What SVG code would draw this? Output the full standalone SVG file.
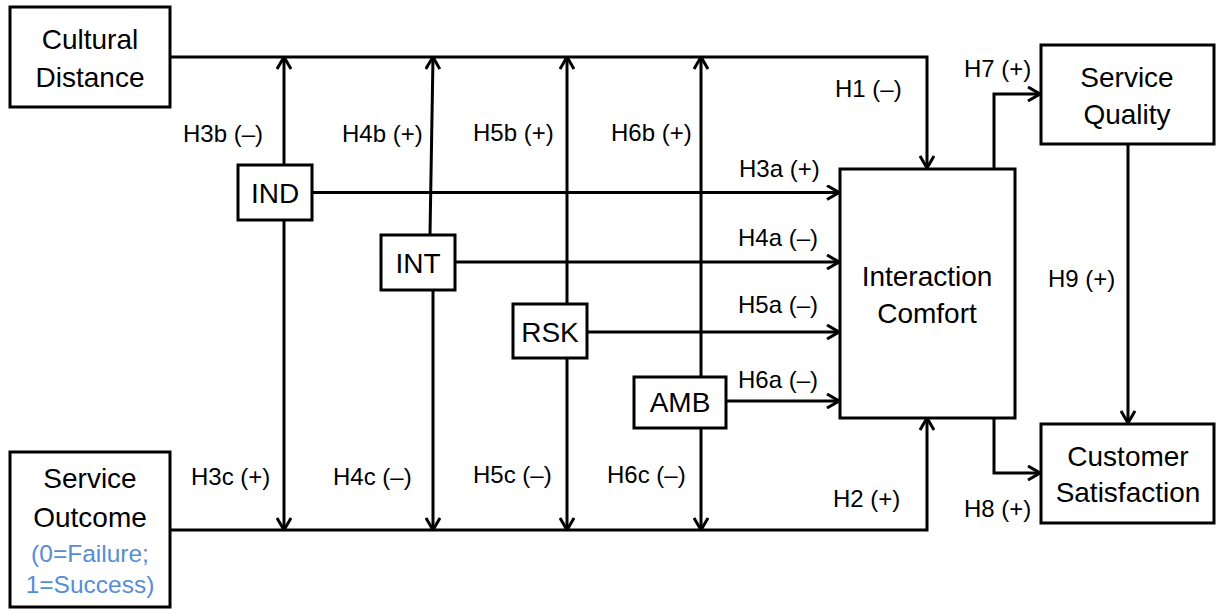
<svg xmlns="http://www.w3.org/2000/svg" width="1216" height="609" viewBox="0 0 1216 609">
<style>
.box{fill:#fff;stroke:#000;stroke-width:3}
.t{font-family:"Liberation Sans",Arial,sans-serif;font-size:28px;fill:#000;text-anchor:middle}
.lb{font-family:"Liberation Sans",Arial,sans-serif;font-size:24px;fill:#000}
.blue{fill:#558ED5;font-size:24.5px}
.c{fill:none;stroke:#000;stroke-width:3}
</style>
<defs>
<marker id="arr" viewBox="0 0 14 16" refX="13" refY="8" markerWidth="14" markerHeight="16" markerUnits="userSpaceOnUse" orient="auto">
<path d="M1,1 L13,8 L1,15" fill="none" stroke="#000" stroke-width="3"/>
</marker>
</defs>
<rect width="1216" height="609" fill="#fff"/>
<g id="connectors">
<path class="c" d="M170,57 H927 V168" marker-end="url(#arr)"/>
<path class="c" d="M170,530 H927 V418" marker-end="url(#arr)"/>
<path class="c" d="M284,164 V57" marker-end="url(#arr)"/>
<path class="c" d="M284,221 V530" marker-end="url(#arr)"/>
<path class="c" d="M430,234 L433,57" marker-end="url(#arr)"/>
<path class="c" d="M433,290 V530" marker-end="url(#arr)"/>
<path class="c" d="M567,303 V57" marker-end="url(#arr)"/>
<path class="c" d="M567,359 V530" marker-end="url(#arr)"/>
<path class="c" d="M701,376 V57" marker-end="url(#arr)"/>
<path class="c" d="M701,428 V530" marker-end="url(#arr)"/>
<path class="c" d="M313,192.5 H839" marker-end="url(#arr)"/>
<path class="c" d="M455,262 H839" marker-end="url(#arr)"/>
<path class="c" d="M588,332 H839" marker-end="url(#arr)"/>
<path class="c" d="M726,401 H839" marker-end="url(#arr)"/>
<path class="c" d="M994,168 V94 H1040" marker-end="url(#arr)"/>
<path class="c" d="M994,418 V473 H1040" marker-end="url(#arr)"/>
<path class="c" d="M1128,144 V423" marker-end="url(#arr)"/>
<text class="lb" x="835" y="97">H1 (–)</text>
<text class="lb" x="183" y="142">H3b (–)</text>
<text class="lb" x="342" y="142">H4b (+)</text>
<text class="lb" x="473" y="141">H5b (+)</text>
<text class="lb" x="611" y="141">H6b (+)</text>
<text class="lb" x="739" y="177">H3a (+)</text>
<text class="lb" x="738" y="246">H4a (–)</text>
<text class="lb" x="738" y="313">H5a (–)</text>
<text class="lb" x="738" y="388">H6a (–)</text>
<text class="lb" x="191" y="485">H3c (+)</text>
<text class="lb" x="333" y="485">H4c (–)</text>
<text class="lb" x="473" y="483">H5c (–)</text>
<text class="lb" x="607" y="483">H6c (–)</text>
<text class="lb" x="833" y="507">H2 (+)</text>
<text class="lb" x="964" y="77">H7 (+)</text>
<text class="lb" x="964" y="517">H8 (+)</text>
<text class="lb" x="1048" y="287">H9 (+)</text>
</g>
<g id="cultural-distance">
<rect class="box" x="10" y="7" width="160" height="100"/>
<text class="t" x="90" y="49">Cultural</text>
<text class="t" x="90" y="87">Distance</text>
</g>
<g id="service-outcome">
<rect class="box" x="10" y="452" width="160" height="155"/>
<text class="t" x="90" y="488">Service</text>
<text class="t" x="90" y="527">Outcome</text>
<text class="t blue" x="90" y="562">(0=Failure;</text>
<text class="t blue" x="90" y="593">1=Success)</text>
</g>
<g id="ind">
<rect class="box" x="238" y="165" width="74" height="55"/>
<text class="t" x="275" y="203">IND</text>
</g>
<g id="int">
<rect class="box" x="381" y="235" width="74" height="55"/>
<text class="t" x="418" y="273">INT</text>
</g>
<g id="rsk">
<rect class="box" x="513" y="304" width="74" height="54"/>
<text class="t" x="550" y="342">RSK</text>
</g>
<g id="amb">
<rect class="box" x="634" y="377" width="92" height="51"/>
<text class="t" x="680" y="412">AMB</text>
</g>
<g id="interaction-comfort">
<rect class="box" x="840" y="169" width="175" height="249"/>
<text class="t" x="927" y="286">Interaction</text>
<text class="t" x="927" y="323">Comfort</text>
</g>
<g id="service-quality">
<rect class="box" x="1041" y="45" width="173" height="99"/>
<text class="t" x="1127" y="87">Service</text>
<text class="t" x="1127" y="124">Quality</text>
</g>
<g id="customer-satisfaction">
<rect class="box" x="1041" y="424" width="173" height="99"/>
<text class="t" x="1128" y="466">Customer</text>
<text class="t" x="1128" y="502">Satisfaction</text>
</g>
</svg>
